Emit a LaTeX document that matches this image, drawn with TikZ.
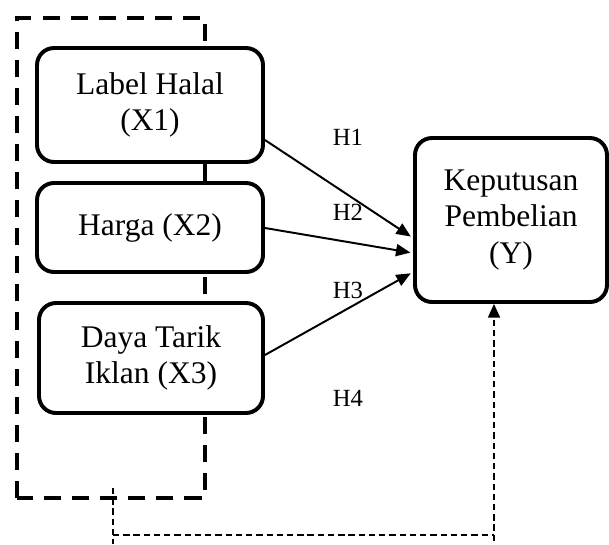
\documentclass[tikz,border=0pt]{standalone}
\usepackage{fontspec}
\setmainfont{Liberation Serif}
\usetikzlibrary{arrows.meta}
\begin{document}
\begin{tikzpicture}[x=0.381pt,y=-0.381pt,
  varbox/.style={draw,line width=1.5pt,rounded corners=6.5pt,fill=white,align=center,
    font=\fontsize{12}{13.8}\selectfont,inner sep=0pt},
  hyp/.style={font=\fontsize{9.4}{11}\selectfont,inner sep=0pt},
  path arrow/.style={line width=0.75pt,-{Triangle[length=5.5pt,width=4.6pt]}},
  bigdash/.style={line width=1.5pt,dash pattern=on 6.5pt off 4.2pt},
  thindash/.style={line width=0.6pt,dash pattern=on 2.4pt off 1.5pt}]
\useasboundingbox (0,0) rectangle (609,544);
% group frame
\draw[bigdash] (17,498) -- (17,18) -- (205,18) -- (205,498) -- cycle;
% boxes
\node[varbox,minimum width={226*0.381pt},minimum height={114*0.381pt}] (x1) at (150,105) {Label Halal\\(X1)};
\node[varbox,minimum width={226*0.381pt},minimum height={89*0.381pt}] (x2) at (150,227.5) {Harga (X2)};
\node[varbox,minimum width={224*0.381pt},minimum height={110*0.381pt}] (x3) at (151,358) {Daya Tarik\\Iklan (X3)};
\node[varbox,minimum width={192*0.381pt},minimum height={164*0.381pt}] (y) at (511,220) {Keputusan\\Pembelian\\(Y)};
% labels
\node[hyp] (h1) at (348,137) {H1};
\node[hyp] (h2) at (348,212) {H2};
\node[hyp] (h3) at (348,290) {H3};
\node[hyp] (h4) at (348,398) {H4};
% arrows
\draw[path arrow,shorten >=1pt] (x1.east |- 0,140) -- (y.west |- 0,238);
\draw[path arrow,shorten >=1pt] (x2.east |- 0,228) -- (y.west |- 0,253);
\draw[path arrow,shorten >=1pt] (x3.east |- 0,355) -- (y.west |- 0,272);
% simultaneous path
\coordinate (ga) at (113,488);
\coordinate (gb) at (113,544);
\coordinate (gc) at (113,535);
\coordinate (gd) at (494,535);
\coordinate (ge) at (494,541);
\draw[thindash] (ga) -- (gb);
\draw[thindash] (gc) -- (gd);
\draw[thindash,-{Triangle[length=5.2pt,width=4.6pt]}] (ge) -- (ge |- y.south);
\end{tikzpicture}
\end{document}
